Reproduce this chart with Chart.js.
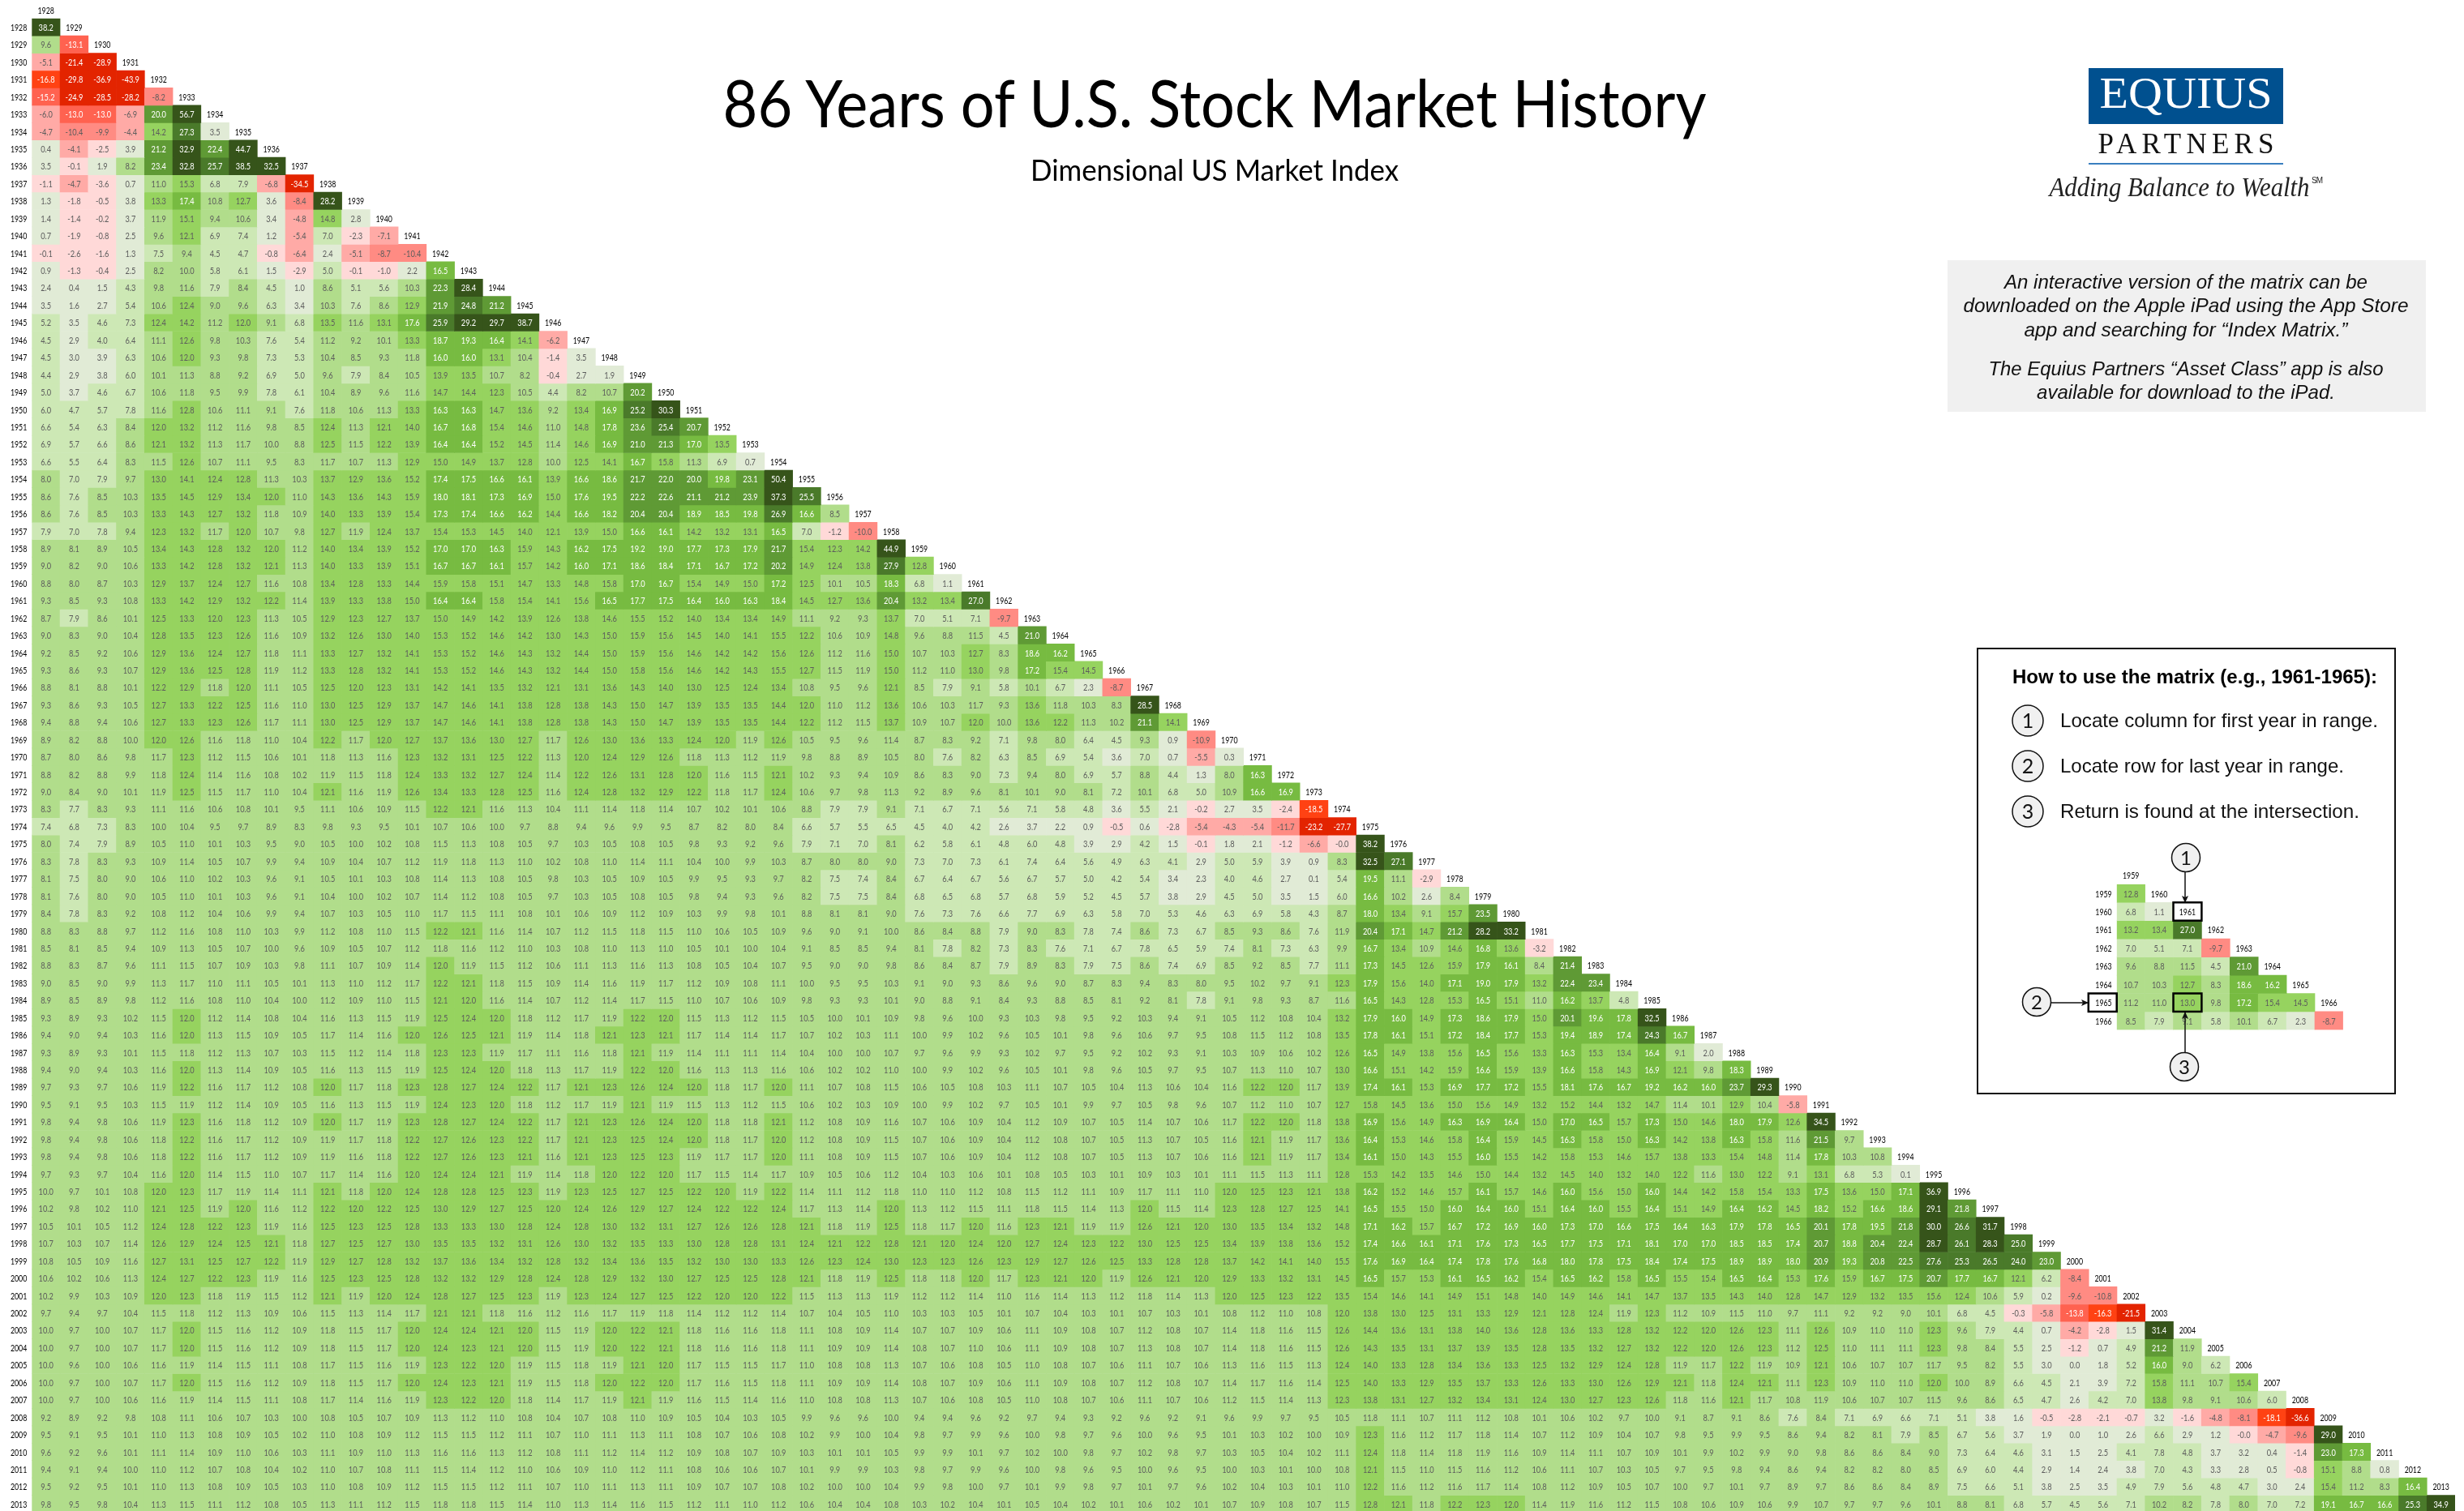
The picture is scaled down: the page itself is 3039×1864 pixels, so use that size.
<!DOCTYPE html>
<html><head><meta charset="utf-8"><title>86 Years of U.S. Stock Market History</title>
<script src="https://cdn.jsdelivr.net/npm/chart.js@4"></script>
<style>
html,body{margin:0;padding:0;width:3039px;height:1864px;overflow:hidden;background:#fff}
canvas,svg{position:absolute;display:block}
#main{left:0;top:0;z-index:1}
#mini{left:2570px;top:1070px;z-index:2}
#deco{left:0;top:0;z-index:3}
</style></head><body>
<canvas id="main" width="3039" height="1866" style="width:3039px;height:1866px"></canvas>
<canvas id="mini" width="330" height="205" style="width:330px;height:205px"></canvas>
<svg id="deco" width="3039" height="1864" viewBox="0 0 3039 1864" xmlns="http://www.w3.org/2000/svg">
<defs><marker id="ah" markerWidth="9" markerHeight="8" refX="8" refY="4" orient="auto" markerUnits="userSpaceOnUse"><path d="M0 0L9 4L0 8L2 4Z" fill="#111"/></marker></defs>
<text x="1498" y="157" text-anchor="middle" font-family="Lato" font-size="82" textLength="1213" lengthAdjust="spacingAndGlyphs" fill="#000">86 Years of U.S. Stock Market History</text>
<text x="1498" y="223" text-anchor="middle" font-family="Lato" font-size="36" textLength="454" lengthAdjust="spacingAndGlyphs" fill="#000">Dimensional US Market Index</text>
<rect x="2576" y="84" width="240" height="69" fill="#00508f"/>
<text x="2696" y="133" text-anchor="middle" font-family="Liberation Serif" font-size="54" textLength="213" lengthAdjust="spacingAndGlyphs" fill="#fff">EQUIUS</text>
<text x="2696" y="189" text-anchor="middle" font-family="Liberation Serif" font-size="35" textLength="217" fill="#111">PARTNERS</text>
<rect x="2576" y="201" width="240" height="2" fill="#3a7fc0"/>
<text x="2688" y="242" text-anchor="middle" font-family="Liberation Serif" font-style="italic" font-size="34" textLength="321" lengthAdjust="spacingAndGlyphs" fill="#222">Adding Balance to Wealth</text>
<text x="2851" y="226" font-family="Liberation Sans" font-size="10" textLength="14" fill="#222">SM</text>
<rect x="2402" y="321" width="590" height="187" fill="#f0f0f0"/>
<g font-family="Liberation Sans" font-style="italic" font-size="24" text-anchor="middle" fill="#111" lengthAdjust="spacingAndGlyphs">
<text x="2696" y="356" textLength="448" lengthAdjust="spacingAndGlyphs">An interactive version of the matrix can be</text>
<text x="2696" y="385" textLength="549" lengthAdjust="spacingAndGlyphs">downloaded on the Apple iPad using the App Store</text>
<text x="2696" y="415" textLength="399" lengthAdjust="spacingAndGlyphs">app and searching for “Index Matrix.”</text>
<text x="2696" y="463" textLength="487" lengthAdjust="spacingAndGlyphs">The Equius Partners “Asset Class” app is also</text>
<text x="2696" y="492" textLength="368" lengthAdjust="spacingAndGlyphs">available for download to the iPad.</text>
</g>
<rect x="2439" y="800" width="515" height="549" fill="none" stroke="#111" stroke-width="2"/>
<text x="2482" y="843" font-family="Liberation Sans" font-weight="bold" font-size="24" textLength="450" lengthAdjust="spacingAndGlyphs" fill="#000">How to use the matrix (e.g., 1961-1965):</text>
<g font-family="Liberation Sans" font-size="24" fill="#111">
<text x="2541" y="897" textLength="392" lengthAdjust="spacingAndGlyphs">Locate column for first year in range.</text>
<text x="2541" y="953" textLength="350" lengthAdjust="spacingAndGlyphs">Locate row for last year in range.</text>
<text x="2541" y="1009" textLength="369" lengthAdjust="spacingAndGlyphs">Return is found at the intersection.</text>
</g>
<g fill="#f0f0f0" stroke="#111" stroke-width="1.5">
<circle cx="2501" cy="889" r="19"/><circle cx="2501" cy="945" r="19"/><circle cx="2501" cy="1001" r="19"/>
<circle cx="2696" cy="1058" r="17.5"/><circle cx="2512" cy="1236" r="17.5"/><circle cx="2694" cy="1316" r="17.5"/>
</g>
<g font-family="Lato" text-anchor="middle" fill="#111">
<text x="2501" y="898" font-size="25">1</text><text x="2501" y="954" font-size="25">2</text><text x="2501" y="1010" font-size="25">3</text>
<text x="2696" y="1067" font-size="24">1</text><text x="2512" y="1245" font-size="24">2</text><text x="2694" y="1325" font-size="24">3</text>
</g>
<g stroke="#111" stroke-width="1.5" fill="none" marker-end="url(#ah)">
<path d="M2695 1076V1113" marker-end="url(#ah)"/><path d="M2530 1237H2575" marker-end="url(#ah)"/><path d="M2695 1298V1249" marker-end="url(#ah)"/>
</g>
</svg>
<script>
const years=[];for(let y=1928;y<=2013;y++)years.push(y);
const r1928=[38.2];
const r1929=[9.6,-13.1];
const r1930=[-5.1,-21.4,-28.9];
const r1931=[-16.8,-29.8,-36.9,-43.9];
const r1932=[-15.2,-24.9,-28.5,-28.2,-8.2];
const r1933=[-6.0,-13.0,-13.0,-6.9,20.0,56.7];
const r1934=[-4.7,-10.4,-9.9,-4.4,14.2,27.3,3.5];
const r1935=[0.4,-4.1,-2.5,3.9,21.2,32.9,22.4,44.7];
const r1936=[3.5,-0.1,1.9,8.2,23.4,32.8,25.7,38.5,32.5];
const r1937=[-1.1,-4.7,-3.6,0.7,11.0,15.3,6.8,7.9,-6.8,-34.5];
const r1938=[1.3,-1.8,-0.5,3.8,13.3,17.4,10.8,12.7,3.6,-8.4,28.2];
const r1939=[1.4,-1.4,-0.2,3.7,11.9,15.1,9.4,10.6,3.4,-4.8,14.8,2.8];
const r1940=[0.7,-1.9,-0.8,2.5,9.6,12.1,6.9,7.4,1.2,-5.4,7.0,-2.3,-7.1];
const r1941=[-0.1,-2.6,-1.6,1.3,7.5,9.4,4.5,4.7,-0.8,-6.4,2.4,-5.1,-8.7,-10.4];
const r1942=[0.9,-1.3,-0.4,2.5,8.2,10.0,5.8,6.1,1.5,-2.9,5.0,-0.1,-1.0,2.2,16.5];
const r1943=[2.4,0.4,1.5,4.3,9.8,11.6,7.9,8.4,4.5,1.0,8.6,5.1,5.6,10.3,22.3,28.4];
const r1944=[3.5,1.6,2.7,5.4,10.6,12.4,9.0,9.6,6.3,3.4,10.3,7.6,8.6,12.9,21.9,24.8,21.2];
const r1945=[5.2,3.5,4.6,7.3,12.4,14.2,11.2,12.0,9.1,6.8,13.5,11.6,13.1,17.6,25.9,29.2,29.7,38.7];
const r1946=[4.5,2.9,4.0,6.4,11.1,12.6,9.8,10.3,7.6,5.4,11.2,9.2,10.1,13.3,18.7,19.3,16.4,14.1,-6.2];
const r1947=[4.5,3.0,3.9,6.3,10.6,12.0,9.3,9.8,7.3,5.3,10.4,8.5,9.3,11.8,16.0,16.0,13.1,10.4,-1.4,3.5];
const r1948=[4.4,2.9,3.8,6.0,10.1,11.3,8.8,9.2,6.9,5.0,9.6,7.9,8.4,10.5,13.9,13.5,10.7,8.2,-0.4,2.7,1.9];
const r1949=[5.0,3.7,4.6,6.7,10.6,11.8,9.5,9.9,7.8,6.1,10.4,8.9,9.6,11.6,14.7,14.4,12.3,10.5,4.4,8.2,10.7,20.2];
const r1950=[6.0,4.7,5.7,7.8,11.6,12.8,10.6,11.1,9.1,7.6,11.8,10.6,11.3,13.3,16.3,16.3,14.7,13.6,9.2,13.4,16.9,25.2,30.3];
const r1951=[6.6,5.4,6.3,8.4,12.0,13.2,11.2,11.6,9.8,8.5,12.4,11.3,12.1,14.0,16.7,16.8,15.4,14.6,11.0,14.8,17.8,23.6,25.4,20.7];
const r1952=[6.9,5.7,6.6,8.6,12.1,13.2,11.3,11.7,10.0,8.8,12.5,11.5,12.2,13.9,16.4,16.4,15.2,14.5,11.4,14.6,16.9,21.0,21.3,17.0,13.5];
const r1953=[6.6,5.5,6.4,8.3,11.5,12.6,10.7,11.1,9.5,8.3,11.7,10.7,11.3,12.9,15.0,14.9,13.7,12.8,10.0,12.5,14.1,16.7,15.8,11.3,6.9,0.7];
const r1954=[8.0,7.0,7.9,9.7,13.0,14.1,12.4,12.8,11.3,10.3,13.7,12.9,13.6,15.2,17.4,17.5,16.6,16.1,13.9,16.6,18.6,21.7,22.0,20.0,19.8,23.1,50.4];
const r1955=[8.6,7.6,8.5,10.3,13.5,14.5,12.9,13.4,12.0,11.0,14.3,13.6,14.3,15.9,18.0,18.1,17.3,16.9,15.0,17.6,19.5,22.2,22.6,21.1,21.2,23.9,37.3,25.5];
const r1956=[8.6,7.6,8.5,10.3,13.3,14.3,12.7,13.2,11.8,10.9,14.0,13.3,13.9,15.4,17.3,17.4,16.6,16.2,14.4,16.6,18.2,20.4,20.4,18.9,18.5,19.8,26.9,16.6,8.5];
const r1957=[7.9,7.0,7.8,9.4,12.3,13.2,11.7,12.0,10.7,9.8,12.7,11.9,12.4,13.7,15.4,15.3,14.5,14.0,12.1,13.9,15.0,16.6,16.1,14.2,13.2,13.1,16.5,7.0,-1.2,-10.0];
const r1958=[8.9,8.1,8.9,10.5,13.4,14.3,12.8,13.2,12.0,11.2,14.0,13.4,13.9,15.2,17.0,17.0,16.3,15.9,14.3,16.2,17.5,19.2,19.0,17.7,17.3,17.9,21.7,15.4,12.3,14.2,44.9];
const r1959=[9.0,8.2,9.0,10.6,13.3,14.2,12.8,13.2,12.1,11.3,14.0,13.3,13.9,15.1,16.7,16.7,16.1,15.7,14.2,16.0,17.1,18.6,18.4,17.1,16.7,17.2,20.2,14.9,12.4,13.8,27.9,12.8];
const r1960=[8.8,8.0,8.7,10.3,12.9,13.7,12.4,12.7,11.6,10.8,13.4,12.8,13.3,14.4,15.9,15.8,15.1,14.7,13.3,14.8,15.8,17.0,16.7,15.4,14.9,15.0,17.2,12.5,10.1,10.5,18.3,6.8,1.1];
const r1961=[9.3,8.5,9.3,10.8,13.3,14.2,12.9,13.2,12.2,11.4,13.9,13.3,13.8,15.0,16.4,16.4,15.8,15.4,14.1,15.6,16.5,17.7,17.5,16.4,16.0,16.3,18.4,14.5,12.7,13.6,20.4,13.2,13.4,27.0];
const r1962=[8.7,7.9,8.6,10.1,12.5,13.3,12.0,12.3,11.3,10.5,12.9,12.3,12.7,13.7,15.0,14.9,14.2,13.9,12.6,13.8,14.6,15.5,15.2,14.0,13.4,13.4,14.9,11.1,9.2,9.3,13.7,7.0,5.1,7.1,-9.7];
const r1963=[9.0,8.3,9.0,10.4,12.8,13.5,12.3,12.6,11.6,10.9,13.2,12.6,13.0,14.0,15.3,15.2,14.6,14.2,13.0,14.3,15.0,15.9,15.6,14.5,14.0,14.1,15.5,12.2,10.6,10.9,14.8,9.6,8.8,11.5,4.5,21.0];
const r1964=[9.2,8.5,9.2,10.6,12.9,13.6,12.4,12.7,11.8,11.1,13.3,12.7,13.2,14.1,15.3,15.2,14.6,14.3,13.2,14.4,15.0,15.9,15.6,14.6,14.2,14.2,15.6,12.6,11.2,11.6,15.0,10.7,10.3,12.7,8.3,18.6,16.2];
const r1965=[9.3,8.6,9.3,10.7,12.9,13.6,12.5,12.8,11.9,11.2,13.3,12.8,13.2,14.1,15.3,15.2,14.6,14.3,13.2,14.4,15.0,15.8,15.6,14.6,14.2,14.3,15.5,12.7,11.5,11.9,15.0,11.2,11.0,13.0,9.8,17.2,15.4,14.5];
const r1966=[8.8,8.1,8.8,10.1,12.2,12.9,11.8,12.0,11.1,10.5,12.5,12.0,12.3,13.1,14.2,14.1,13.5,13.2,12.1,13.1,13.6,14.3,14.0,13.0,12.5,12.4,13.4,10.8,9.5,9.6,12.1,8.5,7.9,9.1,5.8,10.1,6.7,2.3,-8.7];
const r1967=[9.3,8.6,9.3,10.5,12.7,13.3,12.2,12.5,11.6,11.0,13.0,12.5,12.9,13.7,14.7,14.6,14.1,13.8,12.8,13.8,14.3,15.0,14.7,13.9,13.5,13.5,14.4,12.0,11.0,11.2,13.6,10.6,10.3,11.7,9.3,13.6,11.8,10.3,8.3,28.5];
const r1968=[9.4,8.8,9.4,10.6,12.7,13.3,12.3,12.6,11.7,11.1,13.0,12.5,12.9,13.7,14.7,14.6,14.1,13.8,12.8,13.8,14.3,15.0,14.7,13.9,13.5,13.5,14.4,12.2,11.2,11.5,13.7,10.9,10.7,12.0,10.0,13.6,12.2,11.3,10.2,21.1,14.1];
const r1969=[8.9,8.2,8.8,10.0,12.0,12.6,11.6,11.8,11.0,10.4,12.2,11.7,12.0,12.7,13.7,13.6,13.0,12.7,11.7,12.6,13.0,13.6,13.3,12.4,12.0,11.9,12.6,10.5,9.5,9.6,11.4,8.7,8.3,9.2,7.1,9.8,8.0,6.4,4.5,9.3,0.9,-10.9];
const r1970=[8.7,8.0,8.6,9.8,11.7,12.3,11.2,11.5,10.6,10.1,11.8,11.3,11.6,12.3,13.2,13.1,12.5,12.2,11.3,12.0,12.4,12.9,12.6,11.8,11.3,11.2,11.9,9.8,8.8,8.9,10.5,8.0,7.6,8.2,6.3,8.5,6.9,5.4,3.6,7.0,0.7,-5.5,0.3];
const r1971=[8.8,8.2,8.8,9.9,11.8,12.4,11.4,11.6,10.8,10.2,11.9,11.5,11.8,12.4,13.3,13.2,12.7,12.4,11.4,12.2,12.6,13.1,12.8,12.0,11.6,11.5,12.1,10.2,9.3,9.4,10.9,8.6,8.3,9.0,7.3,9.4,8.0,6.9,5.7,8.8,4.4,1.3,8.0,16.3];
const r1972=[9.0,8.4,9.0,10.1,11.9,12.5,11.5,11.7,11.0,10.4,12.1,11.6,11.9,12.6,13.4,13.3,12.8,12.5,11.6,12.4,12.8,13.2,12.9,12.2,11.8,11.7,12.4,10.6,9.7,9.8,11.3,9.2,8.9,9.6,8.1,10.1,9.0,8.1,7.2,10.1,6.8,5.0,10.9,16.6,16.9];
const r1973=[8.3,7.7,8.3,9.3,11.1,11.6,10.6,10.8,10.1,9.5,11.1,10.6,10.9,11.5,12.2,12.1,11.6,11.3,10.4,11.1,11.4,11.8,11.4,10.7,10.2,10.1,10.6,8.8,7.9,7.9,9.1,7.1,6.7,7.1,5.6,7.1,5.8,4.8,3.6,5.5,2.1,-0.2,2.7,3.5,-2.4,-18.5];
const r1974=[7.4,6.8,7.3,8.3,10.0,10.4,9.5,9.7,8.9,8.3,9.8,9.3,9.5,10.1,10.7,10.6,10.0,9.7,8.8,9.4,9.6,9.9,9.5,8.7,8.2,8.0,8.4,6.6,5.7,5.5,6.5,4.5,4.0,4.2,2.6,3.7,2.2,0.9,-0.5,0.6,-2.8,-5.4,-4.3,-5.4,-11.7,-23.2,-27.7];
const r1975=[8.0,7.4,7.9,8.9,10.5,11.0,10.1,10.3,9.5,9.0,10.5,10.0,10.2,10.8,11.5,11.3,10.8,10.5,9.7,10.3,10.5,10.8,10.5,9.8,9.3,9.2,9.6,7.9,7.1,7.0,8.1,6.2,5.8,6.1,4.8,6.0,4.8,3.9,2.9,4.2,1.5,-0.1,1.8,2.1,-1.2,-6.6,-0.0,38.2];
const r1976=[8.3,7.8,8.3,9.3,10.9,11.4,10.5,10.7,9.9,9.4,10.9,10.4,10.7,11.2,11.9,11.8,11.3,11.0,10.2,10.8,11.0,11.4,11.1,10.4,10.0,9.9,10.3,8.7,8.0,8.0,9.0,7.3,7.0,7.3,6.1,7.4,6.4,5.6,4.9,6.3,4.1,2.9,5.0,5.9,3.9,0.9,8.3,32.5,27.1];
const r1977=[8.1,7.5,8.0,9.0,10.6,11.0,10.2,10.3,9.6,9.1,10.5,10.1,10.3,10.8,11.4,11.3,10.8,10.5,9.8,10.3,10.5,10.9,10.5,9.9,9.5,9.3,9.7,8.2,7.5,7.4,8.4,6.7,6.4,6.7,5.6,6.7,5.7,5.0,4.2,5.4,3.4,2.3,4.0,4.6,2.7,0.1,5.4,19.5,11.1,-2.9];
const r1978=[8.1,7.6,8.0,9.0,10.5,11.0,10.1,10.3,9.6,9.1,10.4,10.0,10.2,10.7,11.4,11.2,10.8,10.5,9.7,10.3,10.5,10.8,10.5,9.8,9.4,9.3,9.6,8.2,7.5,7.5,8.4,6.8,6.5,6.8,5.7,6.8,5.9,5.2,4.5,5.7,3.8,2.9,4.5,5.0,3.5,1.5,6.0,16.6,10.2,2.6,8.4];
const r1979=[8.4,7.8,8.3,9.2,10.8,11.2,10.4,10.6,9.9,9.4,10.7,10.3,10.5,11.0,11.7,11.5,11.1,10.8,10.1,10.6,10.9,11.2,10.9,10.3,9.9,9.8,10.1,8.8,8.1,8.1,9.0,7.6,7.3,7.6,6.6,7.7,6.9,6.3,5.8,7.0,5.3,4.6,6.3,6.9,5.8,4.3,8.7,18.0,13.4,9.1,15.7,23.5];
const r1980=[8.8,8.3,8.8,9.7,11.2,11.6,10.8,11.0,10.3,9.9,11.2,10.8,11.0,11.5,12.2,12.1,11.6,11.4,10.7,11.2,11.5,11.8,11.5,11.0,10.6,10.5,10.9,9.6,9.0,9.1,10.0,8.6,8.4,8.8,7.9,9.0,8.3,7.8,7.4,8.6,7.3,6.7,8.5,9.3,8.6,7.6,11.9,20.4,17.1,14.7,21.2,28.2,33.2];
const r1981=[8.5,8.1,8.5,9.4,10.9,11.3,10.5,10.7,10.0,9.6,10.9,10.5,10.7,11.2,11.8,11.6,11.2,11.0,10.3,10.8,11.0,11.3,11.0,10.5,10.1,10.0,10.4,9.1,8.5,8.5,9.4,8.1,7.8,8.2,7.3,8.3,7.6,7.1,6.7,7.8,6.5,5.9,7.4,8.1,7.3,6.3,9.9,16.7,13.4,10.9,14.6,16.8,13.6,-3.2];
const r1982=[8.8,8.3,8.7,9.6,11.1,11.5,10.7,10.9,10.3,9.8,11.1,10.7,10.9,11.4,12.0,11.9,11.5,11.2,10.6,11.1,11.3,11.6,11.3,10.8,10.5,10.4,10.7,9.5,9.0,9.0,9.8,8.6,8.4,8.7,7.9,8.9,8.3,7.9,7.5,8.6,7.4,6.9,8.5,9.2,8.5,7.7,11.1,17.3,14.5,12.6,15.9,17.9,16.1,8.4,21.4];
const r1983=[9.0,8.5,9.0,9.9,11.3,11.7,11.0,11.1,10.5,10.1,11.3,11.0,11.2,11.7,12.2,12.1,11.8,11.5,10.9,11.4,11.6,11.9,11.7,11.2,10.9,10.8,11.1,10.0,9.5,9.5,10.3,9.1,9.0,9.3,8.6,9.6,9.0,8.7,8.3,9.4,8.3,8.0,9.5,10.2,9.7,9.1,12.3,17.9,15.6,14.0,17.1,19.0,17.9,13.2,22.4,23.4];
const r1984=[8.9,8.5,8.9,9.8,11.2,11.6,10.8,11.0,10.4,10.0,11.2,10.9,11.0,11.5,12.1,12.0,11.6,11.4,10.7,11.2,11.4,11.7,11.5,11.0,10.7,10.6,10.9,9.8,9.3,9.3,10.1,9.0,8.8,9.1,8.4,9.3,8.8,8.5,8.1,9.2,8.1,7.8,9.1,9.8,9.3,8.7,11.6,16.5,14.3,12.8,15.3,16.5,15.1,11.0,16.2,13.7,4.8];
const r1985=[9.3,8.9,9.3,10.2,11.5,12.0,11.2,11.4,10.8,10.4,11.6,11.3,11.5,11.9,12.5,12.4,12.0,11.8,11.2,11.7,11.9,12.2,12.0,11.5,11.3,11.2,11.5,10.5,10.0,10.1,10.9,9.8,9.6,10.0,9.3,10.3,9.8,9.5,9.2,10.3,9.4,9.1,10.5,11.2,10.8,10.4,13.2,17.9,16.0,14.9,17.3,18.6,17.9,15.0,20.1,19.6,17.8,32.5];
const r1986=[9.4,9.0,9.4,10.3,11.6,12.0,11.3,11.5,10.9,10.5,11.7,11.4,11.6,12.0,12.6,12.5,12.1,11.9,11.4,11.8,12.1,12.3,12.1,11.7,11.4,11.4,11.7,10.7,10.2,10.3,11.1,10.0,9.9,10.2,9.6,10.5,10.1,9.8,9.6,10.6,9.7,9.5,10.8,11.5,11.2,10.8,13.5,17.8,16.1,15.1,17.2,18.4,17.7,15.3,19.4,18.9,17.4,24.3,16.7];
const r1987=[9.3,8.9,9.3,10.1,11.5,11.8,11.2,11.3,10.7,10.3,11.5,11.2,11.4,11.8,12.3,12.3,11.9,11.7,11.1,11.6,11.8,12.1,11.9,11.4,11.1,11.1,11.4,10.4,10.0,10.0,10.7,9.7,9.6,9.9,9.3,10.2,9.7,9.5,9.2,10.2,9.3,9.1,10.3,10.9,10.6,10.2,12.6,16.5,14.9,13.8,15.6,16.5,15.6,13.3,16.3,15.3,13.4,16.4,9.1,2.0];
const r1988=[9.4,9.0,9.4,10.3,11.6,12.0,11.3,11.4,10.9,10.5,11.6,11.3,11.5,11.9,12.5,12.4,12.0,11.8,11.3,11.7,11.9,12.2,12.0,11.6,11.3,11.3,11.6,10.6,10.2,10.2,11.0,10.0,9.9,10.2,9.6,10.5,10.1,9.8,9.6,10.5,9.7,9.5,10.7,11.3,11.0,10.7,13.0,16.6,15.1,14.2,15.9,16.6,15.9,13.9,16.6,15.8,14.3,16.9,12.1,9.8,18.3];
const r1989=[9.7,9.3,9.7,10.6,11.9,12.2,11.6,11.7,11.2,10.8,12.0,11.7,11.8,12.3,12.8,12.7,12.4,12.2,11.7,12.1,12.3,12.6,12.4,12.0,11.8,11.7,12.0,11.1,10.7,10.8,11.5,10.6,10.5,10.8,10.3,11.1,10.7,10.5,10.4,11.3,10.6,10.4,11.6,12.2,12.0,11.7,13.9,17.4,16.1,15.3,16.9,17.7,17.2,15.5,18.1,17.6,16.7,19.2,16.2,16.0,23.7,29.3];
const r1990=[9.5,9.1,9.5,10.3,11.5,11.9,11.2,11.4,10.9,10.5,11.6,11.3,11.5,11.9,12.4,12.3,12.0,11.8,11.2,11.7,11.9,12.1,11.9,11.5,11.3,11.2,11.5,10.6,10.2,10.3,10.9,10.0,9.9,10.2,9.7,10.5,10.1,9.9,9.7,10.5,9.8,9.6,10.7,11.2,11.0,10.7,12.7,15.8,14.5,13.6,15.0,15.6,14.9,13.2,15.2,14.4,13.2,14.7,11.4,10.1,12.9,10.4,-5.8];
const r1991=[9.8,9.4,9.8,10.6,11.9,12.3,11.6,11.8,11.2,10.9,12.0,11.7,11.9,12.3,12.8,12.7,12.4,12.2,11.7,12.1,12.3,12.6,12.4,12.0,11.8,11.8,12.1,11.2,10.8,10.9,11.6,10.7,10.6,10.9,10.4,11.2,10.9,10.7,10.5,11.4,10.7,10.6,11.7,12.2,12.0,11.8,13.8,16.9,15.6,14.9,16.3,16.9,16.4,15.0,17.0,16.5,15.7,17.3,15.0,14.6,18.0,17.9,12.6,34.5];
const r1992=[9.8,9.4,9.8,10.6,11.8,12.2,11.6,11.7,11.2,10.9,11.9,11.7,11.8,12.2,12.7,12.6,12.3,12.2,11.7,12.1,12.3,12.5,12.4,12.0,11.8,11.7,12.0,11.2,10.8,10.9,11.5,10.7,10.6,10.9,10.4,11.2,10.8,10.7,10.5,11.3,10.7,10.5,11.6,12.1,11.9,11.7,13.6,16.4,15.3,14.6,15.8,16.4,15.9,14.5,16.3,15.8,15.0,16.3,14.2,13.8,16.3,15.8,11.6,21.5,9.7];
const r1993=[9.8,9.4,9.8,10.6,11.8,12.2,11.6,11.7,11.2,10.9,11.9,11.6,11.8,12.2,12.7,12.6,12.3,12.1,11.6,12.1,12.3,12.5,12.3,11.9,11.7,11.7,12.0,11.1,10.8,10.9,11.5,10.7,10.6,10.9,10.4,11.2,10.8,10.7,10.5,11.3,10.7,10.6,11.6,12.1,11.9,11.7,13.4,16.1,15.0,14.3,15.5,16.0,15.5,14.2,15.8,15.3,14.6,15.7,13.8,13.3,15.4,14.8,11.4,17.8,10.3,10.8];
const r1994=[9.7,9.3,9.7,10.4,11.6,12.0,11.4,11.5,11.0,10.7,11.7,11.4,11.6,12.0,12.4,12.4,12.1,11.9,11.4,11.8,12.0,12.2,12.0,11.7,11.5,11.4,11.7,10.9,10.5,10.6,11.2,10.4,10.3,10.6,10.1,10.8,10.5,10.3,10.1,10.9,10.3,10.1,11.1,11.5,11.3,11.1,12.8,15.3,14.2,13.5,14.6,15.0,14.4,13.2,14.5,14.0,13.2,14.0,12.2,11.6,13.0,12.2,9.1,13.1,6.8,5.3,0.1];
const r1995=[10.0,9.7,10.1,10.8,12.0,12.3,11.7,11.9,11.4,11.1,12.1,11.8,12.0,12.4,12.8,12.8,12.5,12.3,11.9,12.3,12.5,12.7,12.5,12.2,12.0,11.9,12.2,11.4,11.1,11.2,11.8,11.0,11.0,11.2,10.8,11.5,11.2,11.1,10.9,11.7,11.1,11.0,12.0,12.5,12.3,12.1,13.8,16.2,15.2,14.6,15.7,16.1,15.7,14.6,16.0,15.6,15.0,16.0,14.4,14.2,15.8,15.4,13.3,17.5,13.6,15.0,17.1,36.9];
const r1996=[10.2,9.8,10.2,11.0,12.1,12.5,11.9,12.0,11.6,11.2,12.2,12.0,12.2,12.5,13.0,12.9,12.7,12.5,12.0,12.4,12.6,12.9,12.7,12.4,12.2,12.2,12.4,11.7,11.3,11.4,12.0,11.3,11.2,11.5,11.1,11.8,11.5,11.4,11.3,12.0,11.5,11.4,12.3,12.8,12.7,12.5,14.1,16.5,15.5,15.0,16.0,16.4,16.0,15.1,16.4,16.0,15.5,16.4,15.1,14.9,16.4,16.2,14.5,18.2,15.2,16.6,18.6,29.1,21.8];
const r1997=[10.5,10.1,10.5,11.2,12.4,12.8,12.2,12.3,11.9,11.6,12.5,12.3,12.5,12.8,13.3,13.3,13.0,12.8,12.4,12.8,13.0,13.2,13.1,12.7,12.6,12.6,12.8,12.1,11.8,11.9,12.5,11.8,11.7,12.0,11.6,12.3,12.1,11.9,11.9,12.6,12.1,12.0,13.0,13.5,13.4,13.2,14.8,17.1,16.2,15.7,16.7,17.2,16.9,16.0,17.3,17.0,16.6,17.5,16.4,16.3,17.9,17.8,16.5,20.1,17.8,19.5,21.8,30.0,26.6,31.7];
const r1998=[10.7,10.3,10.7,11.4,12.6,12.9,12.4,12.5,12.1,11.8,12.7,12.5,12.7,13.0,13.5,13.5,13.2,13.1,12.6,13.0,13.2,13.5,13.3,13.0,12.8,12.8,13.1,12.4,12.1,12.2,12.8,12.1,12.0,12.4,12.0,12.7,12.4,12.3,12.2,13.0,12.5,12.5,13.4,13.9,13.8,13.6,15.2,17.4,16.6,16.1,17.1,17.6,17.3,16.5,17.7,17.5,17.1,18.1,17.0,17.0,18.5,18.5,17.4,20.7,18.8,20.4,22.4,28.7,26.1,28.3,25.0];
const r1999=[10.8,10.5,10.9,11.6,12.7,13.1,12.5,12.7,12.2,11.9,12.9,12.7,12.8,13.2,13.7,13.6,13.4,13.2,12.8,13.2,13.4,13.6,13.5,13.2,13.0,13.0,13.3,12.6,12.3,12.4,13.0,12.3,12.3,12.6,12.3,12.9,12.7,12.6,12.5,13.3,12.8,12.8,13.7,14.2,14.1,14.0,15.5,17.6,16.9,16.4,17.4,17.8,17.6,16.8,18.0,17.8,17.5,18.4,17.4,17.5,18.9,18.9,18.0,20.9,19.3,20.8,22.5,27.6,25.3,26.5,24.0,23.0];
const r2000=[10.6,10.2,10.6,11.3,12.4,12.7,12.2,12.3,11.9,11.6,12.5,12.3,12.5,12.8,13.2,13.2,12.9,12.8,12.4,12.8,12.9,13.2,13.0,12.7,12.5,12.5,12.8,12.1,11.8,11.9,12.5,11.8,11.8,12.0,11.7,12.3,12.1,12.0,11.9,12.6,12.1,12.0,12.9,13.3,13.2,13.1,14.5,16.5,15.7,15.3,16.1,16.5,16.2,15.4,16.5,16.2,15.8,16.5,15.5,15.4,16.5,16.4,15.3,17.6,15.9,16.7,17.5,20.7,17.7,16.7,12.1,6.2,-8.4];
const r2001=[10.2,9.9,10.3,10.9,12.0,12.3,11.8,11.9,11.5,11.2,12.1,11.9,12.0,12.4,12.8,12.7,12.5,12.3,11.9,12.3,12.4,12.7,12.5,12.2,12.0,12.0,12.2,11.5,11.3,11.3,11.9,11.2,11.2,11.4,11.0,11.6,11.4,11.3,11.2,11.8,11.4,11.3,12.0,12.5,12.3,12.2,13.5,15.4,14.6,14.1,14.9,15.1,14.8,14.0,14.9,14.6,14.1,14.7,13.7,13.5,14.3,14.0,12.8,14.7,12.9,13.2,13.5,15.6,12.4,10.6,5.9,0.2,-9.6,-10.8];
const r2002=[9.7,9.4,9.7,10.4,11.5,11.8,11.2,11.3,10.9,10.6,11.5,11.3,11.4,11.7,12.1,12.1,11.8,11.6,11.2,11.6,11.7,11.9,11.8,11.4,11.2,11.2,11.4,10.7,10.4,10.5,11.0,10.3,10.3,10.5,10.1,10.7,10.4,10.3,10.1,10.7,10.3,10.1,10.8,11.2,11.0,10.8,12.0,13.8,13.0,12.5,13.1,13.3,12.9,12.1,12.8,12.4,11.9,12.3,11.2,10.9,11.5,11.0,9.7,11.1,9.2,9.2,9.0,10.1,6.8,4.5,-0.3,-5.8,-13.8,-16.3,-21.5];
const r2003=[10.0,9.7,10.0,10.7,11.7,12.0,11.5,11.6,11.2,10.9,11.8,11.5,11.7,12.0,12.4,12.4,12.1,12.0,11.5,11.9,12.0,12.2,12.1,11.8,11.6,11.6,11.8,11.1,10.8,10.9,11.4,10.7,10.7,10.9,10.6,11.1,10.9,10.8,10.7,11.2,10.8,10.7,11.4,11.8,11.6,11.5,12.6,14.4,13.6,13.1,13.8,14.0,13.6,12.8,13.6,13.3,12.8,13.2,12.2,12.0,12.6,12.3,11.1,12.6,10.9,11.0,11.0,12.3,9.6,7.9,4.4,0.7,-4.2,-2.8,1.5,31.4];
const r2004=[10.0,9.7,10.0,10.7,11.7,12.0,11.5,11.6,11.2,10.9,11.8,11.5,11.7,12.0,12.4,12.3,12.1,12.0,11.5,11.9,12.0,12.2,12.1,11.8,11.6,11.6,11.8,11.1,10.9,10.9,11.4,10.8,10.7,11.0,10.6,11.1,10.9,10.8,10.7,11.3,10.8,10.7,11.4,11.8,11.6,11.5,12.6,14.3,13.5,13.1,13.7,13.9,13.5,12.8,13.5,13.2,12.7,13.2,12.2,12.0,12.6,12.3,11.2,12.5,11.0,11.1,11.1,12.3,9.8,8.4,5.5,2.5,-1.2,0.7,4.9,21.2,11.9];
const r2005=[10.0,9.6,10.0,10.6,11.6,11.9,11.4,11.5,11.1,10.8,11.7,11.5,11.6,11.9,12.3,12.2,12.0,11.9,11.5,11.8,11.9,12.1,12.0,11.7,11.5,11.5,11.7,11.0,10.8,10.8,11.3,10.7,10.6,10.8,10.5,11.0,10.8,10.7,10.6,11.1,10.7,10.6,11.3,11.6,11.5,11.3,12.4,14.0,13.3,12.8,13.4,13.6,13.3,12.5,13.2,12.9,12.4,12.8,11.9,11.7,12.2,11.9,10.9,12.1,10.6,10.7,10.7,11.7,9.5,8.2,5.5,3.0,0.0,1.8,5.2,16.0,9.0,6.2];
const r2006=[10.0,9.7,10.0,10.7,11.7,12.0,11.5,11.6,11.2,10.9,11.8,11.5,11.7,12.0,12.4,12.3,12.1,11.9,11.5,11.8,12.0,12.2,12.0,11.7,11.6,11.5,11.8,11.1,10.9,10.9,11.4,10.8,10.7,10.9,10.6,11.1,10.9,10.8,10.7,11.2,10.8,10.7,11.4,11.7,11.6,11.4,12.5,14.0,13.3,12.9,13.5,13.7,13.3,12.6,13.3,13.0,12.6,12.9,12.1,11.8,12.4,12.1,11.1,12.3,10.9,11.0,11.0,12.0,10.0,8.9,6.6,4.5,2.1,3.9,7.2,15.8,11.1,10.7,15.4];
const r2007=[10.0,9.7,10.0,10.6,11.6,11.9,11.4,11.5,11.1,10.8,11.7,11.4,11.6,11.9,12.3,12.2,12.0,11.8,11.4,11.7,11.9,12.1,11.9,11.6,11.5,11.4,11.6,11.0,10.8,10.8,11.3,10.7,10.6,10.8,10.5,11.0,10.8,10.7,10.6,11.1,10.7,10.6,11.2,11.5,11.4,11.3,12.3,13.8,13.1,12.7,13.2,13.4,13.1,12.4,13.0,12.7,12.3,12.6,11.8,11.6,12.1,11.7,10.8,11.9,10.6,10.7,10.7,11.5,9.6,8.6,6.5,4.7,2.6,4.2,7.0,13.8,9.8,9.1,10.6,6.0];
const r2008=[9.2,8.9,9.2,9.8,10.8,11.1,10.6,10.7,10.3,10.0,10.8,10.5,10.7,10.9,11.3,11.2,11.0,10.8,10.4,10.7,10.8,11.0,10.9,10.5,10.4,10.3,10.5,9.9,9.6,9.6,10.0,9.4,9.4,9.6,9.2,9.7,9.4,9.3,9.2,9.6,9.2,9.1,9.6,9.9,9.7,9.5,10.5,11.8,11.1,10.7,11.1,11.2,10.8,10.1,10.6,10.2,9.7,10.0,9.1,8.7,9.1,8.6,7.6,8.4,7.1,6.9,6.6,7.1,5.1,3.8,1.6,-0.5,-2.8,-2.1,-0.7,3.2,-1.6,-4.8,-8.1,-18.1,-36.6];
const r2009=[9.5,9.1,9.5,10.1,11.0,11.3,10.8,10.9,10.5,10.2,11.0,10.8,10.9,11.2,11.5,11.5,11.2,11.1,10.7,11.0,11.1,11.3,11.1,10.8,10.7,10.6,10.8,10.2,9.9,10.0,10.4,9.8,9.7,9.9,9.6,10.0,9.8,9.7,9.6,10.0,9.6,9.5,10.1,10.3,10.2,10.0,10.9,12.3,11.6,11.2,11.7,11.8,11.4,10.7,11.2,10.9,10.4,10.7,9.8,9.5,9.9,9.5,8.6,9.4,8.2,8.1,7.9,8.5,6.7,5.6,3.7,1.9,0.0,1.0,2.6,6.6,2.9,1.2,-0.0,-4.7,-9.6,29.0];
const r2010=[9.6,9.2,9.6,10.1,11.1,11.4,10.9,11.0,10.6,10.3,11.1,10.9,11.0,11.3,11.6,11.6,11.3,11.2,10.8,11.1,11.2,11.4,11.2,10.9,10.8,10.7,10.9,10.3,10.1,10.1,10.5,9.9,9.9,10.1,9.7,10.2,10.0,9.8,9.7,10.2,9.8,9.7,10.3,10.5,10.4,10.2,11.1,12.4,11.8,11.4,11.8,11.9,11.6,10.9,11.4,11.1,10.7,10.9,10.1,9.9,10.2,9.9,9.0,9.8,8.6,8.6,8.4,9.0,7.3,6.4,4.6,3.1,1.5,2.5,4.1,7.8,4.8,3.7,3.2,0.4,-1.4,23.0,17.3];
const r2011=[9.4,9.1,9.4,10.0,11.0,11.2,10.7,10.8,10.4,10.2,11.0,10.7,10.8,11.1,11.5,11.4,11.2,11.0,10.6,10.9,11.0,11.2,11.1,10.8,10.6,10.6,10.7,10.1,9.9,9.9,10.3,9.8,9.7,9.9,9.6,10.0,9.8,9.6,9.5,10.0,9.6,9.5,10.0,10.3,10.1,10.0,10.8,12.1,11.5,11.0,11.5,11.6,11.2,10.6,11.1,10.7,10.3,10.5,9.7,9.5,9.8,9.4,8.6,9.4,8.2,8.2,8.0,8.5,6.9,6.0,4.4,2.9,1.4,2.4,3.8,7.0,4.3,3.3,2.8,0.5,-0.8,15.1,8.8,0.8];
const r2012=[9.5,9.2,9.5,10.1,11.0,11.3,10.8,10.9,10.5,10.3,11.0,10.8,10.9,11.2,11.5,11.5,11.2,11.1,10.7,11.0,11.1,11.3,11.1,10.9,10.7,10.7,10.8,10.2,10.0,10.0,10.4,9.9,9.8,10.0,9.7,10.1,9.9,9.8,9.7,10.1,9.7,9.6,10.2,10.4,10.3,10.1,11.0,12.2,11.6,11.2,11.6,11.7,11.4,10.8,11.2,10.9,10.5,10.7,10.0,9.7,10.1,9.7,8.9,9.7,8.6,8.6,8.4,8.9,7.5,6.6,5.1,3.8,2.5,3.5,4.9,7.9,5.6,4.8,4.7,3.0,2.4,15.4,11.2,8.3,16.4];
const r2013=[9.8,9.5,9.8,10.4,11.3,11.5,11.1,11.2,10.8,10.5,11.3,11.1,11.2,11.5,11.8,11.8,11.5,11.4,11.0,11.3,11.4,11.6,11.5,11.2,11.1,11.0,11.2,10.6,10.4,10.4,10.8,10.3,10.2,10.4,10.1,10.5,10.4,10.2,10.1,10.6,10.2,10.1,10.7,10.9,10.8,10.7,11.5,12.8,12.1,11.8,12.2,12.3,12.0,11.4,11.9,11.6,11.2,11.5,10.8,10.6,10.9,10.6,9.9,10.7,9.7,9.7,9.6,10.1,8.8,8.1,6.8,5.7,4.5,5.6,7.1,10.2,8.2,7.8,8.0,7.0,7.2,19.1,16.7,16.6,25.3,34.9];
const rows=[r1928,r1929,r1930,r1931,r1932,r1933,r1934,r1935,r1936,r1937,r1938,r1939,r1940,r1941,r1942,r1943,r1944,r1945,r1946,r1947,r1948,r1949,r1950,r1951,r1952,r1953,r1954,r1955,r1956,r1957,r1958,r1959,r1960,r1961,r1962,r1963,r1964,r1965,r1966,r1967,r1968,r1969,r1970,r1971,r1972,r1973,r1974,r1975,r1976,r1977,r1978,r1979,r1980,r1981,r1982,r1983,r1984,r1985,r1986,r1987,r1988,r1989,r1990,r1991,r1992,r1993,r1994,r1995,r1996,r1997,r1998,r1999,r2000,r2001,r2002,r2003,r2004,r2005,r2006,r2007,r2008,r2009,r2010,r2011,r2012,r2013];
rows.forEach((r,i)=>{if(r.length!==i+1)throw new Error('row '+(1928+i)+' has '+r.length+' values, expected '+(i+1));});

const isNeg=v=>v<0||Object.is(v,-0);
function cellColor(v){
  if(isNeg(v)){
    if(v>-4)return '#ffd9d8';
    if(v>-8)return '#ffaaa6';
    if(v>-12)return '#ff8b83';
    if(v>-16)return '#ff6250';
    if(v>-20)return '#ff4213';
    return '#e32400';
  }
  if(v<4)return '#e1ebd6';
  if(v<8)return '#cde8b5';
  if(v<12)return '#b1dd8b';
  if(v<16)return '#96d35f';
  if(v<20)return '#77bb41';
  if(v<24)return '#5f9a35';
  if(v<28)return '#4a7a2a';
  return '#36541a';
}
function textColor(v){return (v>=16||v<=-12)?'#ffffff':'#5c5c5c';}
function fmt(v){return Object.is(v,-0)?'-0.0':v.toFixed(1);}

function squeezedText(ctx,s,x,y,sx,color,align){
  ctx.save();ctx.translate(x,y);ctx.scale(sx,1);
  ctx.fillStyle=color;ctx.textAlign=align||'center';ctx.textBaseline='middle';
  ctx.fillText(s,0,0);ctx.restore();
}
const matrixText={
  id:'matrixText',
  afterDatasetsDraw(chart,args,o){
    const ctx=chart.ctx,xs=chart.scales.x,ys=chart.scales.y;
    ctx.font='11px Lato';
    o.rows.forEach((row,ri)=>{
      const yr=o.years[ri],py=ys.getPixelForValue(yr)+1;
      row.forEach((v,ci)=>squeezedText(ctx,fmt(v),xs.getPixelForValue(ci),py,0.84,textColor(v)));
    });
    o.years.forEach((yr,i)=>{
      squeezedText(ctx,String(yr),chart.chartArea.left-6,ys.getPixelForValue(yr)+1,0.8,'#000','right');
      squeezedText(ctx,String(yr),xs.getPixelForValue(i),ys.getPixelForValue(yr-1)+1,0.8,'#000');
    });
    if(o.mark){
      ctx.strokeStyle='#000';ctx.lineWidth=2.5;
      const hw=(xs.getPixelForValue(1)-xs.getPixelForValue(0))/2,hh=(ys.getPixelForValue(o.years[1])-ys.getPixelForValue(o.years[0]))/2;
      const box=(cx,cy)=>ctx.strokeRect(cx-hw,cy-hh,hw*2,hh*2);
      const cIdx=o.years.indexOf(o.mark.col),cPix=xs.getPixelForValue(cIdx);
      box(cPix,ys.getPixelForValue(o.mark.col-1));
      box(chart.chartArea.left-hw,ys.getPixelForValue(o.mark.row));
      box(cPix,ys.getPixelForValue(o.mark.row));
    }
  }
};
function matrixChart(canvas,yrs,data,pad,mark){
  const datasets=data.map((row,ri)=>({
    data:row.map(()=>[yrs[ri]-0.5,yrs[ri]+0.5]),
    backgroundColor:row.map(cellColor),
    borderWidth:0,grouped:false,barPercentage:1,categoryPercentage:1
  }));
  return new Chart(canvas,{
    type:'bar',
    data:{labels:yrs.map(String),datasets},
    plugins:[matrixText],
    options:{
      responsive:false,animation:false,devicePixelRatio:1,
      layout:{padding:pad},
      plugins:{legend:{display:false},tooltip:{enabled:false},title:{display:false},matrixText:{rows:data,years:yrs,mark}},
      scales:{
        x:{type:'category',display:false,offset:true,grid:{display:false}},
        y:{type:'linear',reverse:true,min:yrs[0]-0.5,max:yrs[yrs.length-1]+0.5,
           grid:{display:false},border:{display:false},ticks:{display:false},
           afterFit(s){s.width=pad.yWidth;}}
      }
    }
  });
}
matrixChart(document.getElementById('main'),years,rows,{left:0,top:22.7,right:11,bottom:0,yWidth:39.3});
const miniYears=[1959,1960,1961,1962,1963,1964,1965,1966];
const miniRows=miniYears.map(y=>rows[y-1928].slice(1959-1928));
matrixChart(document.getElementById('mini'),miniYears,miniRows,{left:0,top:20.8,right:10.1,bottom:4.6,yWidth:40.7},{col:1961,row:1965});
</script>
</body></html>
